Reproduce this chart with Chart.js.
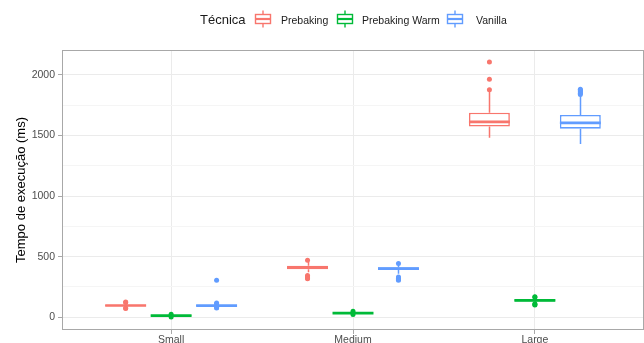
<!DOCTYPE html>
<html>
<head>
<meta charset="utf-8">
<script src="https://cdn.jsdelivr.net/npm/chart.js@4/dist/chart.umd.min.js"></script>
<style>
  html, body { margin: 0; padding: 0; background: #fff; }
  #wrap { position: relative; width: 644px; height: 343px; font-family: 'Liberation Sans', Arial, sans-serif; }
  #c { position: absolute; left: 0; top: 0; }
  .lg { position: absolute; top: 9px; height: 20px; line-height: 20px; white-space: nowrap; color: #1a1a1a; }
  .lg svg { display: block; margin-top: 1px; }
</style>
</head>
<body>
<div id="wrap">
  <canvas id="c" width="644" height="343"></canvas>
  <div id="legend"></div>
</div>
<script>
// Execution time per input size and technique (ms)
const categories = ['Small', 'Medium', 'Large'];
const techniques = ['Prebaking', 'Prebaking Warm', 'Vanilla'];
const colors = ['#F8766D', '#00BA38', '#619CFF'];

// Box summaries per size: [lower whisker, Q1, median, Q3, upper whisker]
const prebakingStats = [[80, 91, 97, 103, 114], [372, 396, 410, 425, 455], [1482, 1573, 1612, 1688, 1860]];
const prebakingWarmStats = [[6, 10, 13, 16, 20], [26, 31, 35, 39, 45], [120, 130, 139, 148, 160]];
const vanillaStats = [[84, 91, 96, 101, 108], [360, 391, 402, 413, 436], [1430, 1556, 1603, 1669, 1830]];

// Points beyond the whiskers
const prebakingOutliers = [[72, 76, 122, 126], [471, 345, 335, 325, 318], [1878, 1964, 2105]];
const prebakingWarmOutliers = [[24, 2], [50, 22], [165, 170, 112, 106, 102]];
const vanillaOutliers = [[306, 118, 112, 80, 76], [444, 332, 322, 312, 305], [1838, 1848, 1858, 1866, 1875, 1882]];

// Y axis tick values
const yMajorTicks = [0, 500, 1000, 1500, 2000];
const yMinorTicks = [250, 750, 1250, 1750];

const allStats = [prebakingStats, prebakingWarmStats, vanillaStats];
const allOutliers = [prebakingOutliers, prebakingWarmOutliers, vanillaOutliers];

const FONT = "'Liberation Sans', Arial, sans-serif";

// Legend row: title plus one boxplot glyph per technique
const legendLayout = [
  { left: 200, html: '<span style="font-size:13px">Técnica</span>' }
];
const keyLefts = [254, 336, 446];
const labelLefts = [281, 362, 476];
techniques.forEach((t, i) => {
  const c = colors[i];
  legendLayout.push({ left: keyLefts[i], html:
    `<svg width="18" height="18" viewBox="0 0 18 18">
       <line x1="9" y1="0.5" x2="9" y2="17.5" stroke="${c}" stroke-width="1.4"/>
       <rect x="1.5" y="4.5" width="15" height="9" fill="#fff" stroke="${c}" stroke-width="1.4"/>
       <line x1="1.5" y1="9" x2="16.5" y2="9" stroke="${c}" stroke-width="2.2"/>
     </svg>` });
  legendLayout.push({ left: labelLefts[i], html: `<span style="font-size:10.5px">${t}</span>` });
});
document.getElementById('legend').innerHTML = legendLayout
  .map(o => `<div class="lg" style="left:${o.left}px">${o.html}</div>`).join('');

// Whiskers and outliers under the boxes, median lines over them
const boxplotParts = {
  id: 'boxplotParts',
  beforeDatasetsDraw(chart) {
    const ctx = chart.ctx, y = chart.scales.y;
    chart.data.datasets.forEach((ds, di) => {
      const meta = chart.getDatasetMeta(di);
      meta.data.forEach((bar, j) => {
        const s = ds.stats[j];
        const x = Math.round(bar.x) + 0.5;
        ctx.save();
        ctx.strokeStyle = ds.borderColor;
        ctx.lineWidth = 1.5;
        ctx.beginPath();
        ctx.moveTo(x, y.getPixelForValue(s[0]));
        ctx.lineTo(x, y.getPixelForValue(s[1]));
        ctx.moveTo(x, y.getPixelForValue(s[3]));
        ctx.lineTo(x, y.getPixelForValue(s[4]));
        ctx.stroke();
        ctx.fillStyle = ds.borderColor;
        ds.outliers[j].forEach(v => {
          ctx.beginPath();
          ctx.arc(bar.x, y.getPixelForValue(v), 2.5, 0, Math.PI * 2);
          ctx.fill();
        });
        ctx.restore();
      });
    });
  },
  afterDatasetsDraw(chart) {
    const ctx = chart.ctx, y = chart.scales.y;
    chart.data.datasets.forEach((ds, di) => {
      const meta = chart.getDatasetMeta(di);
      meta.data.forEach((bar, j) => {
        const s = ds.stats[j];
        const py = y.getPixelForValue(s[2]);
        ctx.save();
        ctx.strokeStyle = ds.borderColor;
        ctx.lineWidth = 2.7;
        ctx.beginPath();
        ctx.moveTo(bar.x - bar.width / 2, py);
        ctx.lineTo(bar.x + bar.width / 2, py);
        ctx.stroke();
        ctx.restore();
      });
    });
  },
  afterDraw(chart) {
    const { left, top, right, bottom } = chart.chartArea;
    const ctx = chart.ctx;
    ctx.save();
    ctx.strokeStyle = '#a8a8a8';
    ctx.lineWidth = 1;
    ctx.strokeRect(left + 0.5, top + 0.5, right - left - 1, bottom - top - 1);
    ctx.restore();
  }
};

const datasets = techniques.map((t, i) => ({
  label: t,
  data: allStats[i].map((s, j) => ({ x: j + 1, y: [s[1], s[3]] })),
  stats: allStats[i],
  outliers: allOutliers[i],
  backgroundColor: '#ffffff',
  borderColor: colors[i],
  borderWidth: 1.6,
  borderSkipped: false,
  categoryPercentage: 0.75,
  barPercentage: 0.9
}));

new Chart(document.getElementById('c'), {
  type: 'bar',
  data: { datasets },
  plugins: [boxplotParts],
  options: {
    responsive: false,
    animation: false,
    events: [],
    layout: { padding: { top: 50, left: 0, right: 0, bottom: 0 } },
    plugins: { legend: { display: false }, tooltip: { enabled: false } },
    scales: {
      x: {
        type: 'linear',
        min: 0.4,
        max: 3.6,
        offset: false,
        afterBuildTicks: s => { s.ticks = categories.map((_, i) => ({ value: i + 1 })); },
        afterFit: s => { s.height = 13; },
        ticks: {
          callback: v => categories[Math.round(v) - 1] || '',
          color: '#4d4d4d',
          font: { family: FONT, size: 10.5 },
          padding: 0,
          maxRotation: 0,
          autoSkip: false
        },
        grid: { offset: false, color: '#ebebeb', lineWidth: 1, tickColor: '#a8a8a8', tickLength: 4 },
        border: { display: false }
      },
      y: {
        min: -105,
        max: 2205,
        afterBuildTicks: s => {
          s.ticks = yMajorTicks.concat(yMinorTicks).sort((a, b) => a - b).map(v => ({ value: v }));
        },
        afterFit: s => { s.width = 62; },
        ticks: {
          callback: v => (yMajorTicks.includes(v) ? String(v) : ''),
          color: '#4d4d4d',
          font: { family: FONT, size: 10.5 },
          padding: 3,
          autoSkip: false
        },
        grid: {
          color: c => (yMajorTicks.includes(c.tick.value) ? '#ebebeb' : '#f5f5f5'),
          lineWidth: 1,
          tickColor: c => (yMajorTicks.includes(c.tick.value) ? '#a8a8a8' : 'rgba(0,0,0,0)'),
          tickLength: 4
        },
        border: { display: false },
        title: {
          display: true,
          text: 'Tempo de execução (ms)',
          color: '#000',
          font: { family: FONT, size: 13 },
          padding: { top: 14, bottom: 0 }
        }
      }
    }
  }
});
</script>
</body>
</html>
